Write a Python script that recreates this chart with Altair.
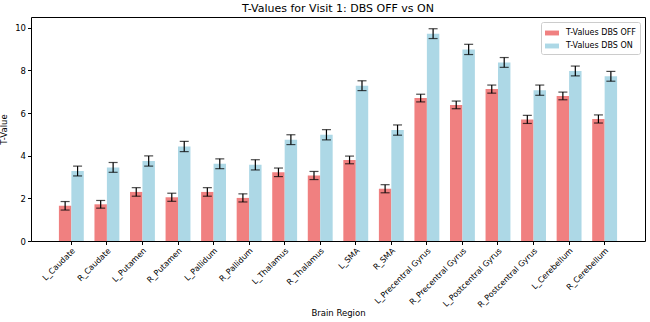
import altair as alt
import pandas as pd

regions = ["L_Caudate", "R_Caudate", "L_Putamen", "R_Putamen", "L_Pallidum", "R_Pallidum",
           "L_Thalamus", "R_Thalamus", "L_SMA", "R_SMA", "L_Precentral Gyrus", "R_Precentral Gyrus",
           "L_Postcentral Gyrus", "R_Postcentral Gyrus", "L_Cerebellum", "R_Cerebellum"]
t_off = [1.65, 1.72, 2.30, 2.05, 2.30, 2.02, 3.22, 3.07, 3.80, 2.45, 6.70, 6.38, 7.12, 5.70, 6.80, 5.72]
t_on = [3.28, 3.45, 3.75, 4.43, 3.62, 3.57, 4.75, 4.98, 7.28, 5.20, 9.72, 8.98, 8.37, 7.07, 7.97, 7.72]
err_off = [0.20, 0.18, 0.20, 0.19, 0.20, 0.19, 0.20, 0.19, 0.18, 0.19, 0.18, 0.18, 0.19, 0.19, 0.18, 0.19]
err_on = [0.23, 0.23, 0.24, 0.24, 0.23, 0.24, 0.23, 0.24, 0.23, 0.24, 0.23, 0.24, 0.23, 0.24, 0.23, 0.23]
series = ["T-Values DBS OFF", "T-Values DBS ON"]
colors = ["#F08080", "#ADD8E6"]

rows = []
for i, r in enumerate(regions):
    rows.append({"region": r, "series": series[0], "value": t_off[i], "err": err_off[i]})
    rows.append({"region": r, "series": series[1], "value": t_on[i], "err": err_on[i]})
df = pd.DataFrame(rows)
df["lo"] = df["value"] - df["err"]
df["hi"] = df["value"] + df["err"]

font = "DejaVu Sans"

x = alt.X("region:N", sort=regions, title="Brain Region",
          scale=alt.Scale(paddingInner=0.3, paddingOuter=0.785),
          axis=alt.Axis(labelAngle=-45, labelAlign="right", labelBaseline="top",
                        labelFontSize=8, titleFontSize=8.5, labelColor="#000", titleColor="#000",
                        tickColor="#000", tickSize=3.5, domain=False,
                        titleY=71, titleBaseline="middle",
                        labelPadding=2, labelFont=font, titleFont=font, titleFontWeight="normal"))
xo = alt.XOffset("series:N", sort=series, scale=alt.Scale(paddingInner=0, paddingOuter=0))
y_scale = alt.Scale(domain=[0, 10.5], nice=False)

base = alt.Chart(df)

bars = base.mark_bar().encode(
    x=x, xOffset=xo,
    y=alt.Y("value:Q", title="T-Value", scale=y_scale,
            axis=alt.Axis(values=[0, 2, 4, 6, 8, 10], labelFontSize=8.5, titleFontSize=8.5,
                          labelColor="#000", titleColor="#000", tickColor="#000", tickSize=3.5,
                          domain=False, grid=False, labelFont=font, titleFont=font,
                          titleFontWeight="normal", titlePadding=6, labelPadding=2)),
    color=alt.Color("series:N", sort=series, scale=alt.Scale(domain=series, range=colors),
                    legend=alt.Legend(title=None, orient="top-right", fillColor="white",
                                      strokeColor="#cccccc", padding=4, cornerRadius=2,
                                      labelFontSize=8, labelFont=font, labelColor="#000",
                                      labelOffset=7,
                                      symbolType="M-1,-0.35L1,-0.35L1,0.35L-1,0.35Z",
                                      symbolSize=196, symbolStrokeWidth=0, offset=5,
                                      rowPadding=2)),
)

rules = base.mark_rule(color="black", strokeWidth=1.2).encode(
    x=x, xOffset=xo, y=alt.Y("lo:Q", scale=y_scale), y2="hi:Q")

caps_lo = base.mark_tick(color="black", thickness=1.2, size=9, orient="horizontal").encode(
    x=x, xOffset=xo, y=alt.Y("lo:Q", scale=y_scale))
caps_hi = base.mark_tick(color="black", thickness=1.2, size=9, orient="horizontal").encode(
    x=x, xOffset=xo, y=alt.Y("hi:Q", scale=y_scale))

chart = alt.layer(bars, rules, caps_lo, caps_hi).properties(
    width=614, height=224,
    title=alt.TitleParams("T-Values for Visit 1: DBS OFF vs ON", fontSize=11, font=font,
                          fontWeight="normal", color="#000", offset=3),
    autosize=alt.AutoSizeParams(type="none"),
    padding={"left": 31, "top": 17, "right": 5, "bottom": 81},
).configure_view(stroke="#000", strokeWidth=1)

chart.save("out.html", embed_options={"renderer": "svg", "actions": False})
